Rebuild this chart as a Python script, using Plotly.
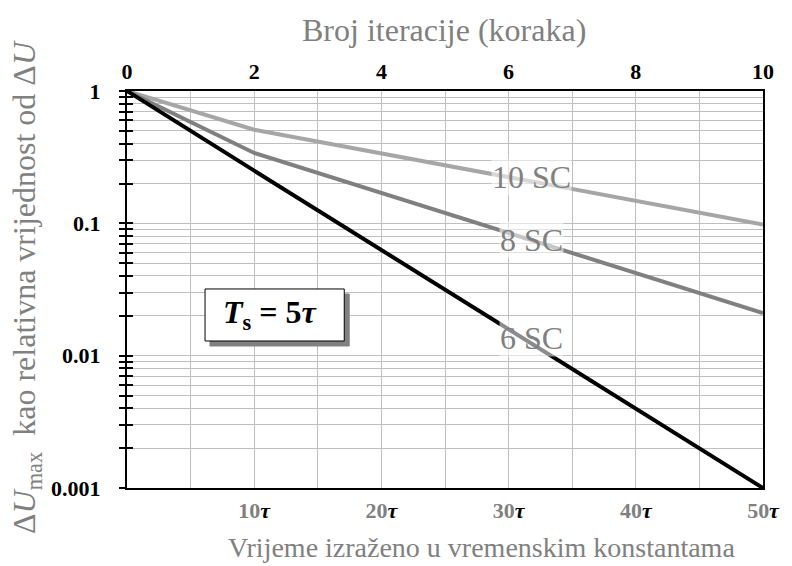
import math
import plotly.graph_objects as go

FONT = "Liberation Serif, Times New Roman, serif"
GRAY = "#808080"

# iteration steps (one step = Ts = 5 tau)
iteracije = [0, 2, 10]
sc10 = [1.0, 0.51, 0.098]
sc8 = [1.0, 0.34, 0.021]
sc6 = [1.0, 0.25, 0.001]
TS_TAU = 5

series_names = ["10 SC", "8 SC", "6 SC"]
series_colors = ["#a6a6a6", "#808080", "#000000"]
# label anchor (tau, value) for each curve label
label_x = [31.8, 31.8, 31.8]
label_y = [0.224, 0.075, 0.0136]

top_ticks = [0, 2, 4, 6, 8, 10]
tau_ticks = [5, 10, 15, 20, 25, 30, 35, 40, 45, 50]
tau_labels = ["" if t % 10 else f"<span style='color:{GRAY}'>{t}</span><i>τ</i>" for t in tau_ticks]

y_ticks = [k * 10.0 ** d for d in (-3, -2, -1) for k in range(1, 10)] + [1.0]
y_labels = [("%g" % (k * 10.0 ** d)) if k == 1 else "" for d in (-3, -2, -1) for k in range(1, 10)] + ["1"]

tau = [TS_TAU * i for i in iteracije]

fig = go.Figure()
for name, vals, color in zip(series_names, [sc10, sc8, sc6], series_colors):
    fig.add_trace(go.Scatter(x=tau, y=vals, mode="lines", name=name,
                             line=dict(color=color, width=4),
                             xaxis="x", yaxis="y", showlegend=False, hoverinfo="skip"))
# transparent copies so the top (iteration) axis and the inner tick axis get drawn
fig.add_trace(go.Scatter(x=iteracije, y=sc6, mode="lines", opacity=0,
                         line=dict(width=0), xaxis="x2", yaxis="y",
                         showlegend=False, hoverinfo="skip"))
fig.add_trace(go.Scatter(x=tau, y=sc6, mode="lines", opacity=0,
                         line=dict(width=0), xaxis="x", yaxis="y2",
                         showlegend=False, hoverinfo="skip"))

fig.update_layout(
    width=792, height=566,
    margin=dict(l=127, r=21, t=91, b=78),
    paper_bgcolor="white", plot_bgcolor="white",
    font=dict(family=FONT, color="black"),
    xaxis=dict(range=[0, 50], tickvals=tau_ticks, ticktext=tau_labels,
               tickfont=dict(size=22, family=FONT, weight="bold", color="black"),
               ticks="", ticklabelstandoff=2,
               showgrid=True, gridcolor="#bfbfbf", gridwidth=1,
               showline=True, linecolor="black", linewidth=2, mirror=True,
               zeroline=False),
    xaxis2=dict(range=[0, 10], overlaying="x", side="top", anchor="y",
                tickvals=top_ticks,
                tickfont=dict(size=22, family=FONT, weight="bold", color="black"),
                ticks="", ticklabelstandoff=7,
                showgrid=False, zeroline=False, showline=False),
    yaxis=dict(type="log", range=[-3, 0], tickvals=y_ticks, ticktext=y_labels,
               tickfont=dict(size=22, family=FONT, weight="bold", color="black"),
               ticks="outside", ticklen=6, tickwidth=2, tickcolor="black",
               ticklabelstandoff=14,
               showgrid=True, gridcolor="#bfbfbf", gridwidth=1,
               showline=True, linecolor="black", linewidth=2, mirror=True,
               zeroline=False),
    yaxis2=dict(type="log", range=[-3, 0], overlaying="y", side="left", anchor="x",
                tickvals=y_ticks, showticklabels=False,
                ticks="inside", ticklen=6, tickwidth=2, tickcolor="black",
                showgrid=False, showline=False, zeroline=False),
)

# curve labels with a translucent white backing (log axis: y given as exponent)
for name, lx, ly in zip(series_names, label_x, label_y):
    fig.add_annotation(x=lx, y=math.log10(ly), xref="x", yref="y",
                       xanchor="center", yanchor="middle", text=name,
                       showarrow=False, font=dict(size=32, family=FONT, color=GRAY),
                       bgcolor="rgba(255,255,255,0.55)", borderpad=0)

# Ts = 5 tau box with drop shadow
bx0, bx1, by0, by1 = 0.1227, 0.3416, 0.3703, 0.5013
dx, dy = 5 / 644, 5 / 397
fig.add_shape(type="rect", xref="paper", yref="paper",
              x0=bx0 + dx, x1=bx1 + dx, y0=by0 - dy, y1=by1 - dy,
              fillcolor=GRAY, line=dict(color=GRAY, width=1), layer="above")
fig.add_shape(type="rect", xref="paper", yref="paper",
              x0=bx0, x1=bx1, y0=by0, y1=by1,
              fillcolor="white", line=dict(color="black", width=1), layer="above")
fig.add_annotation(x=(bx0 + bx1) / 2 - 0.006, y=(by0 + by1) / 2, xref="paper", yref="paper",
                   xanchor="center", yanchor="middle",
                   text="<b><i>T</i><sub>s</sub> = 5<i>τ</i></b>", showarrow=False,
                   font=dict(size=32, family=FONT, color="black"))

# axis titles
fig.add_annotation(x=0.4977, y=1.1537, xref="paper", yref="paper",
                   xanchor="center", yanchor="middle",
                   text="Broj iteracije (koraka)", showarrow=False,
                   font=dict(size=32, family=FONT, color=GRAY))
fig.add_annotation(x=0.557, y=-0.151, xref="paper", yref="paper",
                   xanchor="center", yanchor="middle",
                   text="Vrijeme izraženo u vremenskim konstantama", showarrow=False,
                   font=dict(size=28, family=FONT, color=GRAY))
fig.add_annotation(x=-0.158, y=0.505, xref="paper", yref="paper", textangle=-90,
                   xanchor="center", yanchor="middle",
                   text="Δ<i>U</i><sub>max</sub>  kao relativna vrijednost od Δ<i>U</i>",
                   showarrow=False, font=dict(size=32, family=FONT, color=GRAY))

fig.write_html("out.html")
